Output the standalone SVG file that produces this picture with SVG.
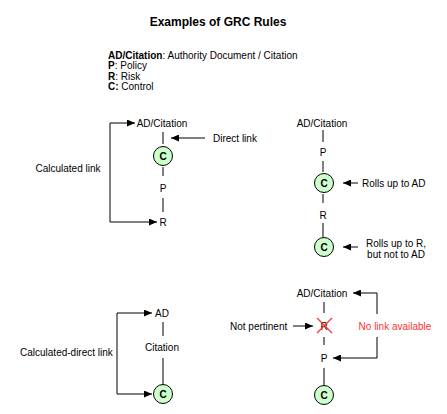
<svg xmlns="http://www.w3.org/2000/svg" width="447" height="414" viewBox="0 0 447 414">
<style>
text{font-family:"Liberation Sans",Arial,Helvetica,sans-serif;font-size:10px;fill:#000}
.t{font-size:12px;font-weight:bold}
.b{font-weight:bold}
.m{text-anchor:middle}
.red{fill:#FF3333}
.ln{stroke:#000;stroke-width:1;fill:none}
.ar{stroke:#000;stroke-width:1;fill:none;marker-end:url(#ah)}
.ar2{stroke:#000;stroke-width:1;fill:none;marker-end:url(#ah);marker-start:url(#ah)}
.ctl{fill:#CCFFCC;stroke:#000;stroke-width:1}
.x{stroke:#FF3333;stroke-width:1.3;fill:none}
</style>
<defs>
<marker id="ah" markerUnits="userSpaceOnUse" markerWidth="8" markerHeight="7" refX="8" refY="3.5" orient="auto-start-reverse">
<path d="M0,0 L8,3.5 L0,7 z" fill="#000"/>
</marker>
</defs>
<rect width="447" height="414" fill="#fff"/>
<text id="title" class="t m" x="218" y="26">Examples of GRC Rules</text>
<g id="legend">
<text x="108" y="58.5"><tspan class="b">AD/Citation</tspan>: Authority Document / Citation</text>
<text x="108" y="69"><tspan class="b">P</tspan>: Policy</text>
<text x="108" y="79.5"><tspan class="b">R</tspan>: Risk</text>
<text x="108" y="90"><tspan class="b">C:</tspan> Control</text>
</g>
<g id="connectors">
<path class="ar2" d="M135,123 H110 V222 H157"/>
<path class="ar" d="M205,138 H171"/>
<path class="ln" d="M163,132 V144 M163,167 V176 M163,198 V212"/>
<path class="ln" d="M323,130 V142 M323,161 V172 M323,194 V203 M323,223 V237"/>
<path class="ar" d="M358,183 H343"/>
<path class="ar" d="M358,247 H343"/>
<path class="ar2" d="M152,313 H117 V394 H152"/>
<path class="ln" d="M163,322 V336 M163,358 V384"/>
<path class="ar2" d="M353,293 H377 V358 H333"/>
<path class="ar" d="M293,326 H313"/>
<path class="ln" d="M324,302 V313 M324,337 V345 M324,368 V385"/>
</g>
<g id="tl-labels">
<text id="tl-calc" class="m" x="68" y="171.5">Calculated link</text>
<text id="tl-direct" x="213" y="141.5">Direct link</text>
</g>
<g id="tl-ad"><text class="m" x="162" y="126.5">AD/Citation</text></g>
<g id="tl-c"><circle class="ctl" cx="163" cy="156" r="9.5"/><text class="b m" x="163" y="159.5">C</text></g>
<g id="tl-p"><text class="m" x="163" y="191.5">P</text></g>
<g id="tl-r"><text class="m" x="163" y="225.5">R</text></g>
<g id="tr-ad"><text class="m" x="322" y="126.5">AD/Citation</text></g>
<g id="tr-p"><text class="m" x="323" y="155.5">P</text></g>
<g id="tr-c1"><circle class="ctl" cx="324" cy="183" r="9.5"/><text class="b m" x="324" y="186.5">C</text></g>
<g id="tr-r"><text class="m" x="323" y="218.5">R</text></g>
<g id="tr-c2"><circle class="ctl" cx="324" cy="247" r="9.5"/><text class="b m" x="324" y="250.5">C</text></g>
<g id="tr-labels">
<text x="362" y="186.5">Rolls up to AD</text>
<text class="m" x="396" y="246.5">Rolls up to R,</text>
<text class="m" x="396" y="258">but not to AD</text>
</g>
<g id="bl-ad"><text class="m" x="162" y="316.5">AD</text></g>
<g id="bl-cit"><text class="m" x="162" y="350.5">Citation</text></g>
<g id="bl-c"><circle class="ctl" cx="163" cy="394" r="9.5"/><text class="b m" x="163" y="397.5">C</text></g>
<g id="bl-labels"><text x="20" y="355.5">Calculated-direct link</text></g>
<g id="br-ad"><text class="m" x="322" y="296.5">AD/Citation</text></g>
<g id="br-r"><text class="m" x="324" y="329.5" fill="#333">R</text><path class="x" d="M317,318 L332,333 M332,318 L317,333"/></g>
<g id="br-p"><text class="m" x="324" y="361.5">P</text></g>
<g id="br-c"><circle class="ctl" cx="324" cy="395" r="9.5"/><text class="b m" x="324" y="398.5">C</text></g>
<g id="br-labels">
<text x="230" y="329.5">Not pertinent</text>
<rect x="356" y="314" width="78" height="23" fill="#fff"/>
<text class="m red" x="395" y="329.5">No link available</text>
</g>
</svg>
